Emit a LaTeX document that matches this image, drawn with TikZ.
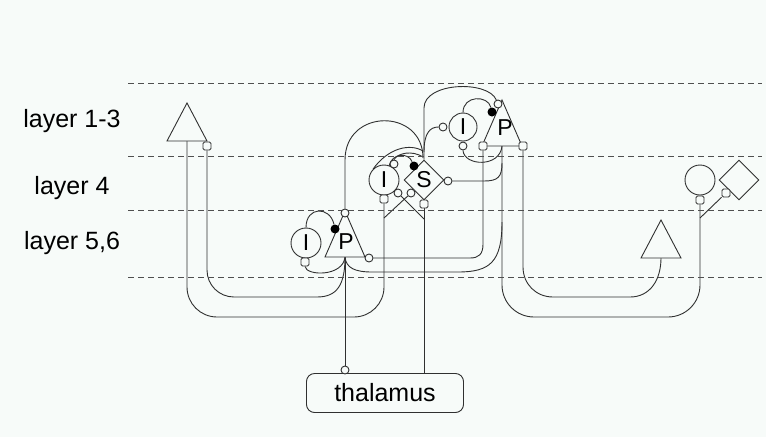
\documentclass[tikz,border=0pt]{standalone}
\usepackage{fontspec}
\setmainfont{Liberation Sans}
\usetikzlibrary{shapes.geometric}
\definecolor{bg}{HTML}{F7FBF9}
\definecolor{ink}{HTML}{303030}
\pgfdeclarelayer{paper}
\pgfdeclarelayer{wires}
\pgfsetlayers{paper,wires,main}
\tikzset{
  wire/.style={draw=ink, line width=0.9pt},
  layerline/.style={draw=ink!85, line width=0.9pt, dash pattern=on 6pt off 4pt},
  syn/.style={circle, draw=ink, fill=bg, line width=0.9pt, inner sep=0pt, minimum size=8pt},
  sqsyn/.style={rectangle, rounded corners=1.5pt, draw=ink, fill=bg, line width=0.9pt, inner sep=0pt, minimum size=8pt},
  inh/.style={circle, fill=black, inner sep=0pt, minimum size=9pt},
  cell/.style={circle, draw=ink, fill=bg, line width=0.9pt, inner sep=0pt, minimum size=30pt, font=\fontsize{23}{23}\selectfont},
  stellate/.style={diamond, draw=ink, fill=bg, line width=0.9pt, inner sep=0pt, minimum width=40pt, minimum height=40pt, font=\fontsize{23}{23}\selectfont},
  layername/.style={font=\fontsize{25}{25}\selectfont, anchor=base},
  pics/pyr/.style={code={
    \draw[ink, fill=bg, line width=0.9pt] (-20,0) coordinate (-bl) -- (20,0) coordinate (-br) -- (0,-#1) coordinate (-apex) -- cycle;
    \coordinate (-base) at (0,0);
  }},
  pics/pyr/.default=38
}
\begin{document}
\begin{tikzpicture}[x=1pt,y=-1pt]
  \begin{pgfonlayer}{paper}
    \fill[bg] (0,0) rectangle (766,437);
  \end{pgfonlayer}
  \useasboundingbox (0,0) rectangle (766,437);

  % layer boundaries and names
  \coordinate (l0) at (128,83);
  \coordinate (l1) at (128,156);
  \coordinate (l2) at (128,210);
  \coordinate (l3) at (128,277);
  \foreach \l in {l0,l1,l2,l3} \draw[layerline] (\l) -- (\l -| 762,0);
  \node[layername] (n13) at (72,127) {layer 1-3};
  \node[layername] (n4) at (72,194) {layer 4};
  \node[layername] (n56) at (72,249) {layer 5,6};

  % left pyramidal cell (layer 1-3)
  \pic (lt) at (187,141) {pyr};
  \node[sqsyn] (lt-sq) at (207,146) {};

  % layer 5,6 interneuron and pyramidal cell
  \node[cell] (li) at (306,243) {I};
  \node[sqsyn] (li-sq) at (305,262) {};
  \pic (lp) at (345,257) {pyr=46};
  \node[font=\fontsize{23}{23}\selectfont] (lp-t) at (346,242) {P};
  \node[syn] (lp-apx) at (345,213) {};
  \node[inh] (lp-dot) at (335,229) {};
  \node[syn] (lp-r) at (369,258) {};

  % layer 4 interneuron and spiny stellate
  \node[cell] (mi) at (384,180) {I};
  \node[sqsyn] (mi-sq) at (384,199) {};
  \node[syn] (mi-c1) at (394,164) {};
  \node[syn] (mi-c2) at (398,193) {};
  \node[stellate] (s) at (424,180) {S};
  \node[inh] (s-dot) at (414,166) {};
  \node[syn] (s-c) at (411,193) {};
  \node[syn] (s-r) at (448,181) {};
  \node[sqsyn] (s-sq) at (424,204) {};

  % layer 1-3 interneuron and pyramidal cell
  \node[cell, minimum size=28pt] (ui) at (463,127) {I};
  \node[syn] (ui-l) at (443,127) {};
  \node[syn] (ui-b) at (463,146) {};
  \pic (up) at (502,146) {pyr=46};
  \node[font=\fontsize{23}{23}\selectfont] (up-t) at (505,128) {P};
  \node[syn] (up-apx) at (498,104) {};
  \node[inh] (up-dot) at (492,112) {};
  \node[sqsyn] (up-l) at (483,146) {};
  \node[sqsyn] (up-r) at (523,146) {};

  % right-hand cells
  \pic (rt) at (661,258) {pyr};
  \node[cell] (rc) at (700,180) {};
  \node[sqsyn] (rc-sq) at (700,200) {};
  \node[stellate] (rd) at (739,180) {};
  \node[sqsyn] (rd-sq) at (726,193) {};

  % thalamus
  \node[draw=ink, fill=bg, line width=0.9pt, rounded corners=8pt, minimum width=157pt, minimum height=39pt, inner sep=0pt, font=\fontsize{25}{25}\selectfont] (th) at (385,393) {thalamus};
  \node[syn] (th-syn) at (345,370) {};

  \begin{pgfonlayer}{wires}
    % long loops below layer 5,6
    \draw[wire, rounded corners=30pt] (lt-base) -- (187,317) -- (384,317) -- (mi-sq.south);
    \draw[wire] (lt-sq.south) -- (207,270) .. controls (207,285) and (219,297) .. (234,297)
                -- (317,297) .. controls (337,297) and (345,285) .. (lp-base);
    \draw[wire, rounded corners=32pt] (up-base) -- (502,317) -- (700,317) -- (rc-sq.south);
    \draw[wire] (up-r.south) -- (523,267) .. controls (523,284) and (536,297) .. (553,297)
                -- (630,297) .. controls (650,297) and (661,280) .. (rt-base);

    % layer 5,6 local wiring
    \draw[wire] (lp-base) -- (th-syn.north);
    \draw[wire] (li-sq.south) .. controls (306,276) and (343,277) .. (lp-base);
    \draw[wire] (li.north) .. controls (306,206) and (330,206) .. (lp-dot);
    \draw[wire] (lp-apx) -- (345,160) .. controls (345,108) and (423,108) .. (423,158);
    \draw[wire] (lp-base) .. controls (346,268) and (355,272) .. (372,272) -- (458,272)
                .. controls (490,272) and (502,262) .. (502,222);
    \draw[wire] (lp-r.east) -- (470,258) .. controls (479,258) and (483,254) .. (483,244) -- (up-l.south);

    % layer 4 local wiring
    \draw[wire] (s-sq.south) -- (s-sq.south |- th.north);
    \draw[wire] (mi-c2) -- (424,219);
    \draw[wire] (s-c) -- (384,218);
    \draw[wire] (mi.north west) .. controls (388,148) and (410,143) .. (423,151);
    \draw[wire] (mi-c1.north) .. controls (398,153) and (412,150) .. (423,157);
    \draw[wire] (s-dot) .. controls (408,152) and (392,153) .. (389,166);
    \draw[wire] (s-r.east) -- (484,181) .. controls (498,181) and (502,177) .. (502,163);

    % layer 1-3 local wiring
    \draw[wire] (s.north) -- (424,108) .. controls (424,82) and (488,80) .. (up-apx);
    \draw[wire] (424,152) .. controls (424,133) and (430,127) .. (ui-l.west);
    \draw[wire] (ui-b.south) .. controls (464,166) and (500,168) .. (up-base);
    \draw[wire] (ui.north) .. controls (463,95) and (488,95) .. (up-dot);

    % right-hand input
    \draw[wire] (rd-sq) -- (700,218);
  \end{pgfonlayer}
\end{tikzpicture}
\end{document}
